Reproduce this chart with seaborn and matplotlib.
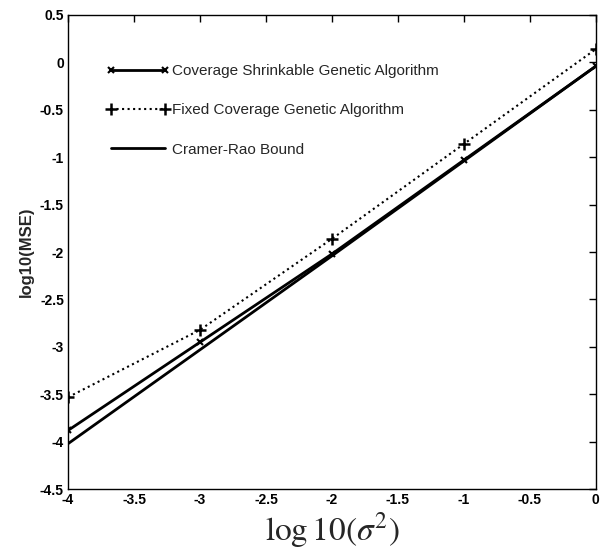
import matplotlib
matplotlib.use("Agg")
import matplotlib.pyplot as plt
import seaborn as sns
import pandas as pd

x_vals = [-4, -3, -2, -1, 0]
csga = [-3.88, -2.95, -2.02, -1.03, -0.04]
fcga = [-3.53, -2.82, -1.86, -0.86, 0.14]
crb = [-4.02, -3.03, -2.04, -1.04, -0.04]
labels = ["Coverage Shrinkable Genetic Algorithm",
          "Fixed Coverage Genetic Algorithm",
          "Cramer-Rao Bound"]
x_ticks = [-4, -3.5, -3, -2.5, -2, -1.5, -1, -0.5, 0]
y_ticks = [0.5, 0, -0.5, -1, -1.5, -2, -2.5, -3, -3.5, -4, -4.5]

sns.set_theme(style="white")
plt.rcParams['font.family'] = ['Liberation Sans', 'DejaVu Sans']
plt.rcParams['mathtext.fontset'] = 'stix'

fig = plt.figure(figsize=(6.08, 5.54), dpi=100)
ax = fig.add_axes([0.112, 0.117, 0.868, 0.856])

df = pd.DataFrame({"x": x_vals * 3,
                   "y": csga + fcga + crb,
                   "series": [labels[0]] * 5 + [labels[1]] * 5 + [labels[2]] * 5})

sns.lineplot(data=df[df.series == labels[0]], x="x", y="y", ax=ax, color="black",
             linewidth=2.0, marker="x", markersize=5, markeredgewidth=1.5,
             markeredgecolor="black", label=labels[0])
sns.lineplot(data=df[df.series == labels[1]], x="x", y="y", ax=ax, color="black",
             linewidth=1.5, linestyle=":", marker="+", markersize=9, markeredgewidth=1.8,
             markeredgecolor="black", label=labels[1])
sns.lineplot(data=df[df.series == labels[2]], x="x", y="y", ax=ax, color="black",
             linewidth=2.0, label=labels[2])

ax.set_xlim(-4, 0)
ax.set_ylim(-4.5, 0.5)
ax.set_xticks(x_ticks)
ax.set_xticklabels([f"{t:g}" for t in x_ticks], fontweight="bold", fontsize=10)
ax.set_yticks(y_ticks)
ax.set_yticklabels([f"{t:g}" for t in y_ticks], fontweight="bold", fontsize=10)
ax.tick_params(direction="in", top=True, right=True, length=5, width=1, pad=3,
               colors="black")
for s in ax.spines.values():
    s.set_color("black")
    s.set_linewidth(1.0)

ax.set_ylabel("log10(MSE)", fontweight="bold", fontsize=12, labelpad=4)
ax.set_xlabel(r"$\mathrm{log\,10(}\sigma^2\mathrm{)}$", fontsize=24, labelpad=2)

leg = ax.legend(loc="upper left", bbox_to_anchor=(0.047, 0.925), frameon=False,
                fontsize=11, handlelength=4.1, handletextpad=0.2,
                labelspacing=1.65, numpoints=2)

fig.savefig("out.png", dpi=100, facecolor="white")
